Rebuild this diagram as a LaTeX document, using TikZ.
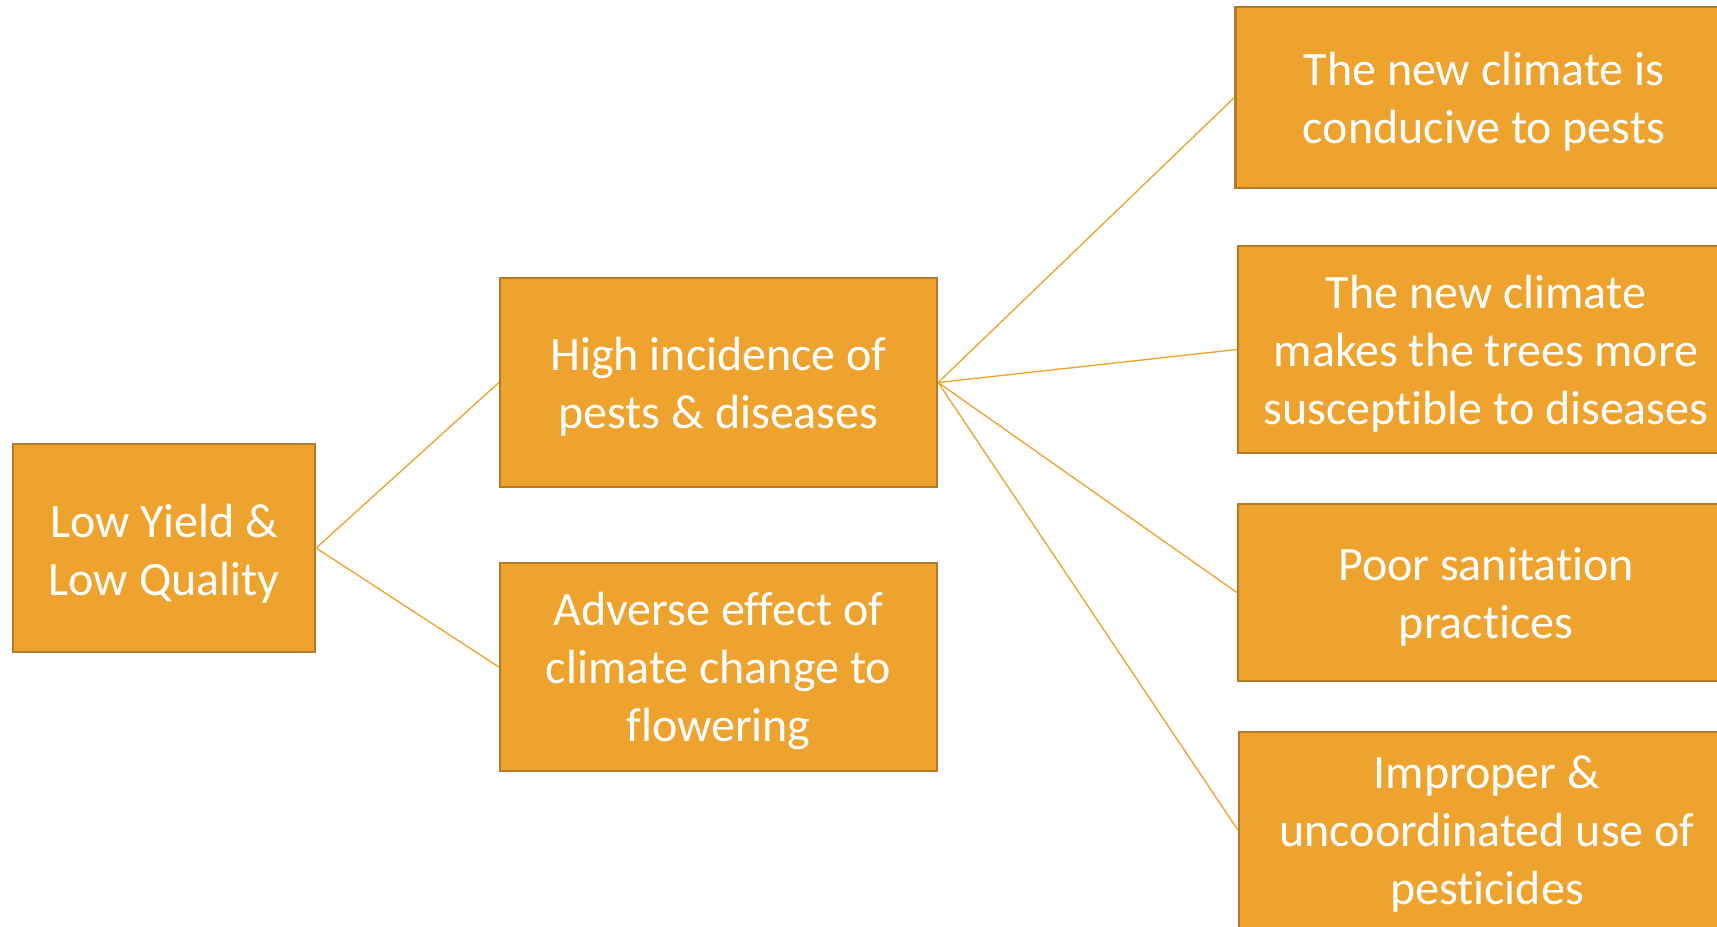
\documentclass[tikz,border=0pt]{standalone}
\usepackage{fontspec}
\setmainfont[Ligatures=NoCommon]{Carlito}
\definecolor{boxfill}{HTML}{EEA32F}
\definecolor{boxedge}{HTML}{B47A25}
\definecolor{linkcol}{HTML}{EEA32F}
\begin{document}
\begin{tikzpicture}[x=0.75pt,y=-0.75pt,
  box/.style n args={2}{draw=boxedge, line width=1.7pt, fill=boxfill,
    minimum width=#1*0.75pt, minimum height=#2*0.75pt, inner sep=0pt},
  txt/.style={text=white, inner sep=0pt, align=center,
    font=\fontsize{36}{43.5}\selectfont},
  conn/.style={draw=linkcol, line width=1pt}]
\useasboundingbox (0,0) rectangle (1717,926);
\fill[white] (0,0) rectangle (1717,926);
\node[box={302}{208}] (n1) at (164,548) {};
\node[box={437}{209}] (n2) at (718.5,382.5) {};
\node[box={437}{208}] (n3) at (718.5,667) {};
\node[box={497}{181}] (r1) at (1484,97.5) {};
\node[box={496}{207}] (r2) at (1486,349.5) {};
\node[box={496}{177}] (r3) at (1486,592.5) {};
\node[box={496}{196}] (r4) at (1487,830) {};
\node[txt] (n1t) at ([yshift=-3.9pt]n1.center) {Low Yield \&\\Low Quality};
\node[txt] (n2t) at ([yshift=-3.3pt]n2.center) {High incidence of\\pests \& diseases};
\node[txt] (n3t) at ([yshift=-3.3pt]n3.center) {Adverse effect of\\climate change to\\flowering};
\node[txt] (r1t) at ([yshift=-3.3pt]r1.center) {The new climate is\\conducive to pests};
\node[txt] (r2t) at ([yshift=-3.3pt]r2.center) {The new climate\\makes the trees more\\susceptible to diseases};
\node[txt] (r3t) at ([yshift=-3.3pt]r3.center) {Poor sanitation\\practices};
\node[txt] (r4t) at ([yshift=-3.3pt]r4.center) {Improper \&\\uncoordinated use of\\pesticides};
\draw[conn] (n1.east) -- (n2.west);
\draw[conn] (n1.east) -- (n3.west);
\draw[conn] (n2.east) -- (r1.west);
\draw[conn] (n2.east) -- (r2.west);
\draw[conn] (n2.east) -- (r3.west);
\draw[conn] (n2.east) -- (r4.west);
\end{tikzpicture}
\end{document}
